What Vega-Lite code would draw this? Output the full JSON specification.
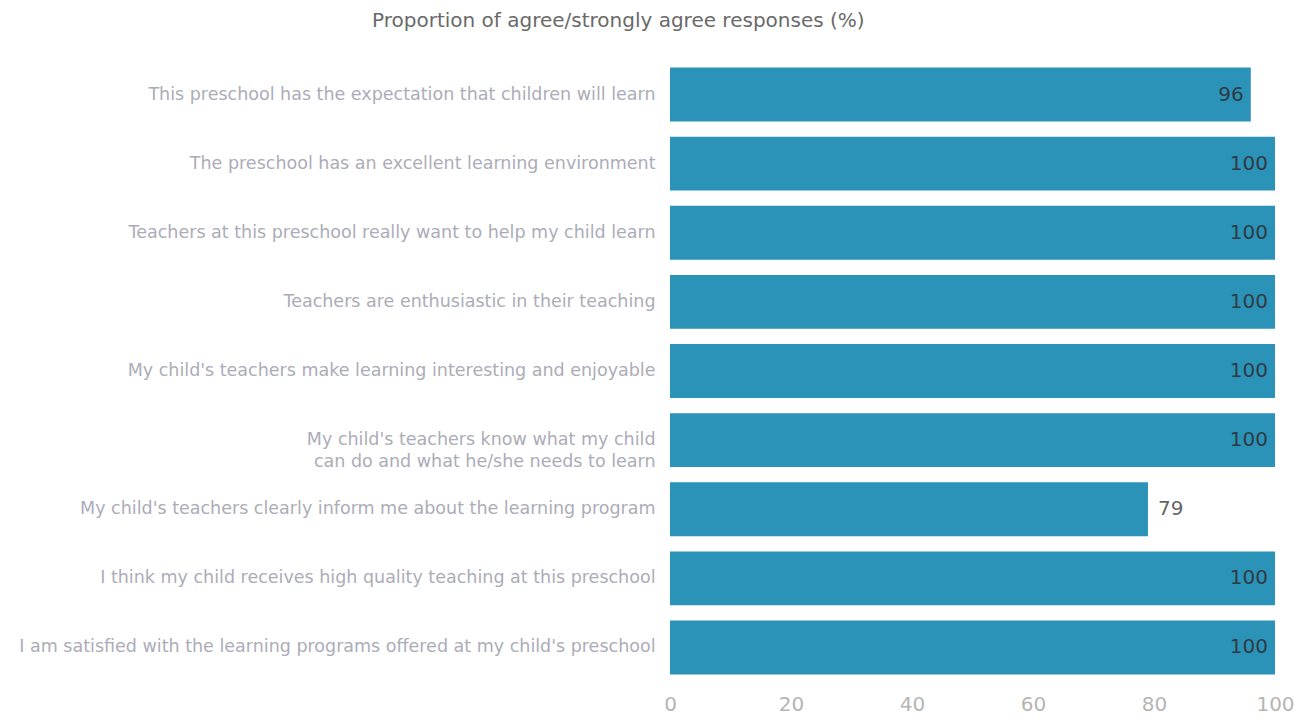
{
  "$schema": "https://vega.github.io/schema/vega-lite/v6.json",
  "width": 605,
  "height": 622,
  "autosize": {"type": "none"},
  "padding": {"left": 670, "top": 60, "right": 37, "bottom": 40},
  "background": "white",
  "title": {
    "text": "Proportion of agree/strongly agree responses (%)",
    "anchor": "start",
    "frame": "group",
    "dx": -298,
    "offset": 29,
    "fontSize": 20,
    "font": "DejaVu Sans",
    "fontWeight": "normal",
    "color": "#6a6a6a"
  },
  "data": {
    "values": [
      {"item": "This preschool has the expectation that children will learn", "pct": 96},
      {"item": "The preschool has an excellent learning environment", "pct": 100},
      {"item": "Teachers at this preschool really want to help my child learn", "pct": 100},
      {"item": "Teachers are enthusiastic in their teaching", "pct": 100},
      {"item": "My child's teachers make learning interesting and enjoyable", "pct": 100},
      {"item": "My child's teachers know what my child|can do and what he/she needs to learn", "pct": 100},
      {"item": "My child's teachers clearly inform me about the learning program", "pct": 79},
      {"item": "I think my child receives high quality teaching at this preschool", "pct": 100},
      {"item": "I am satisfied with the learning programs offered at my child's preschool", "pct": 100}
    ]
  },
  "encoding": {
    "y": {
      "field": "item",
      "type": "nominal",
      "sort": null,
      "scale": {"paddingInner": 0.22, "paddingOuter": 0.11},
      "axis": {
        "title": null,
        "domain": false,
        "ticks": false,
        "labelPadding": 15,
        "labelFontSize": 17.5,
        "labelFont": "DejaVu Sans",
        "labelColor": "#acacb8",
        "labelLimit": 700,
        "labelLineHeight": 22,
        "labelExpr": "split(datum.label, '|')"
      }
    },
    "x": {
      "field": "pct",
      "type": "quantitative",
      "scale": {"domain": [0, 100]},
      "axis": {
        "title": null,
        "domain": false,
        "ticks": false,
        "grid": false,
        "values": [0, 20, 40, 60, 80, 100],
        "labelFontSize": 20,
        "labelFont": "DejaVu Sans",
        "labelColor": "#b5b5b5",
        "labelPadding": 12,
        "labelFlush": false
      }
    }
  },
  "layer": [
    {"mark": {"type": "bar", "color": "#2b93b8"}},
    {
      "transform": [{"filter": "datum.pct >= 90"}],
      "mark": {"type": "text", "align": "right", "dx": -7, "fontSize": 20, "font": "DejaVu Sans", "color": "#2f3b44"},
      "encoding": {"text": {"field": "pct", "type": "quantitative"}}
    },
    {
      "transform": [{"filter": "datum.pct < 90"}],
      "mark": {"type": "text", "align": "left", "dx": 10, "fontSize": 20, "font": "DejaVu Sans", "color": "#666666"},
      "encoding": {"text": {"field": "pct", "type": "quantitative"}}
    }
  ],
  "config": {"view": {"stroke": null}}
}
